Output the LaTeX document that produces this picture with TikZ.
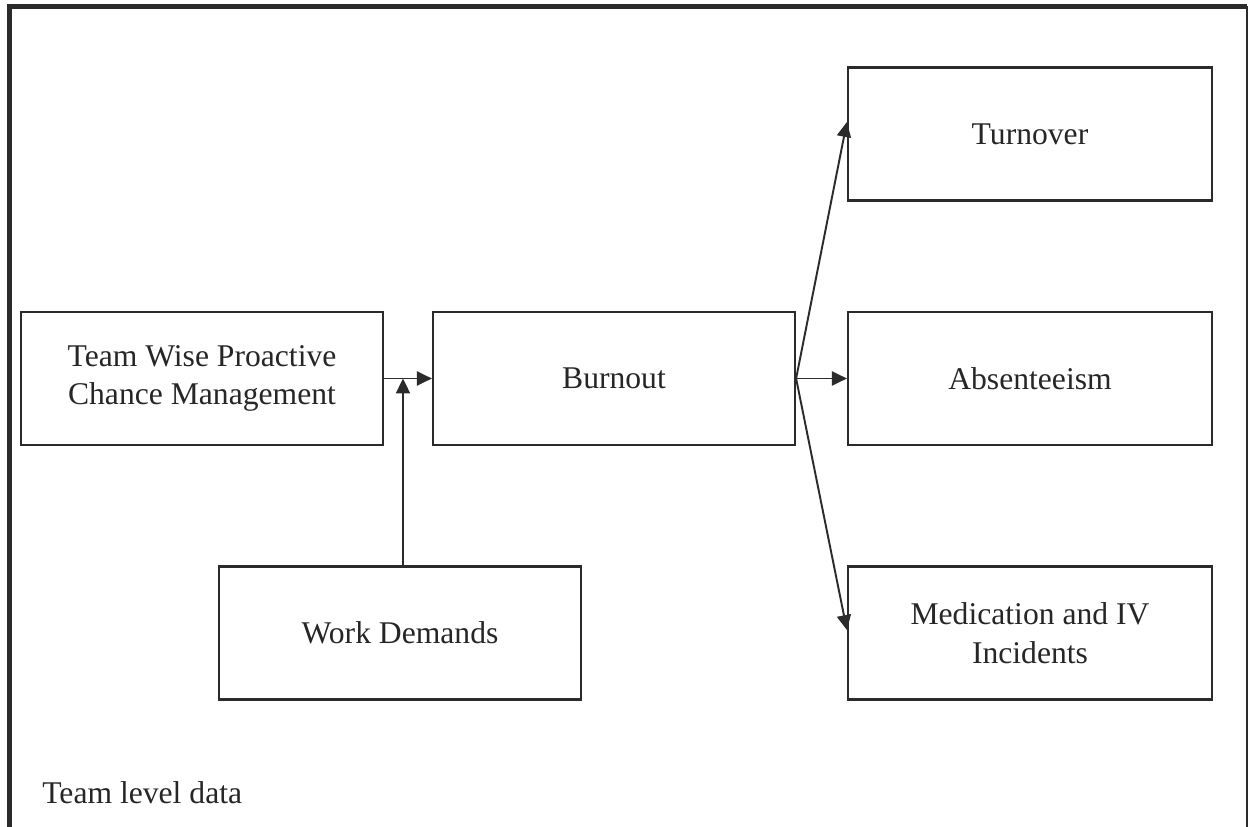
\documentclass[tikz,border=0pt]{standalone}
\usepackage{fontspec}
\setmainfont{Liberation Serif}
\usetikzlibrary{arrows.meta}
\definecolor{ModelGrey}{HTML}{2B2B2B}

\tikzset{
  box/.style={draw=ModelGrey, line width=1.3pt, minimum width=7.24cm, minimum height=2.66cm,
    inner sep=0pt, align=center, text=black!85, font=\fontsize{18}{22}\selectfont},
  link/.style={draw=ModelGrey, line width=1.1pt, -{Triangle[length=8.5pt,width=8pt]}}
}

\begin{document}
\begin{tikzpicture}[x=0.02cm, y=-0.02cm]
        \useasboundingbox (0,0) rectangle (1250,827);
        % open frame
        \draw[ModelGrey, line width=2.8pt] (9.5,827) -- (9.5,6.5) -- (1247,6.5);
        \draw[ModelGrey, line width=1.4pt] (1247,6.5) -- (1247,827);
        % boxes
        \node[box] (team) at (202,378.5) {Team Wise Proactive\\Chance Management};
        \node[box] (burnout) at (614,378.5) {Burnout};
        \node[box] (work) at (400,633) {Work Demands};
        \node[box, minimum width=7.28cm] (turnover) at (1030,134) {Turnover};
        \node[box, minimum width=7.28cm] (absent) at (1030,378.5) {Absenteeism};
        \node[box, minimum width=7.28cm] (medic) at (1030,633) {Medication and IV\\Incidents};
        \node[anchor=base west, inner sep=0pt, text=black!85, font=\fontsize{18}{22}\selectfont] (level) at (42,803) {Team level data};
        % arrows
        \coordinate (join) at (403,378.5);
        \draw[link] (team.east) -- (burnout.west);
        \draw[link] (work.north -| join) -- (join);
        \draw[link] (burnout.east) -- ([yshift=0.24cm]turnover.west);
        \draw[link] (burnout.east) -- (absent.west);
        \draw[link] (burnout.east) -- ([yshift=0.06cm]medic.west);
    \end{tikzpicture}
\end{document}
